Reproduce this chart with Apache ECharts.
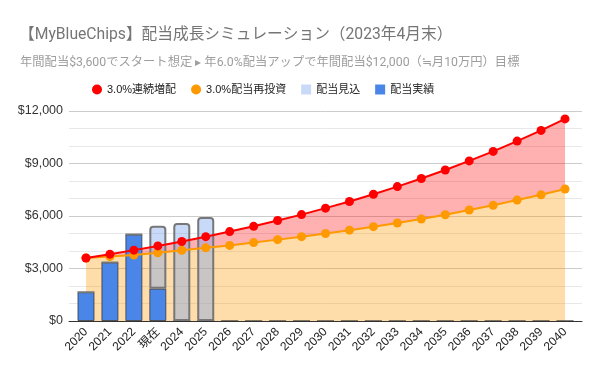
<!DOCTYPE html>
<html><head><meta charset="utf-8">
<script src="https://cdn.jsdelivr.net/npm/echarts@6/dist/echarts.min.js"></script>
<style>html,body{margin:0;padding:0;background:#fff}#c{width:600px;height:371px}</style>
</head><body><div id="c"></div>
<script>
var categories = ['2020','2021','2022','現在','2024','2025','2026','2027','2028','2029','2030','2031','2032','2033','2034','2035','2036','2037','2038','2039','2040'];
var renzokuZouhai = [3600,3820,4050,4290,4540,4820,5110,5410,5740,6080,6450,6830,7240,7680,8140,8630,9150,9690,10280,10890,11550];
var saitoushi = [3600,3680,3770,3900,4040,4180,4320,4480,4650,4820,5000,5190,5390,5600,5830,6070,6340,6610,6910,7210,7540];
var haitouJisseki = [1650,3350,4950,1850,0,0,0,0,0,0,0,0,0,0,0,0,0,0,0,0,0];
var haitouMikomi = [0,0,0,3600,5600,5950,null,null,null,null,null,null,null,null,null,null,null,null,null,null,null];
var yTicks = [0,3000,6000,9000,12000];

var gap = renzokuZouhai.map(function(v,i){return v - saitoushi[i];});
var font = 'Arial, "Liberation Sans", "Noto Sans CJK JP", sans-serif';
var chart = echarts.init(document.getElementById('c'), null, {renderer:'canvas'});
chart.setOption({
  animation:false,
  backgroundColor:'#fff',
  title:[
    {text:'【MyBlueChips】配当成長シミュレーション（2023年4月末）', left:14, top:22,
     textStyle:{fontFamily:'Roboto, "Noto Sans CJK JP", sans-serif', fontSize:15.7, fontWeight:'normal', color:'#757575'}},
    {text:'年間配当$3,600でスタート想定 ▸ 年6.0%配当アップで年間配当$12,000（≒月10万円）目標', left:15, top:52,
     textStyle:{fontFamily:'Roboto, "Noto Sans CJK JP", sans-serif', fontSize:12.3, fontWeight:'normal', color:'#9e9e9e'}}
  ],
  legend:{
    left:87, top:79, itemWidth:10, itemHeight:10, itemGap:15,
    textStyle:{fontFamily:font, fontSize:11, color:'#222'},
    data:[
      {name:'3.0%連続増配', icon:'circle', itemStyle:{color:'#ff0000'}},
      {name:'3.0%配当再投資', icon:'circle', itemStyle:{color:'#ff9900'}},
      {name:'配当見込', icon:'rect', itemStyle:{color:'#c9daf8', borderWidth:0}},
      {name:'配当実績', icon:'rect', itemStyle:{color:'#4a86e8', borderWidth:0}}
    ]
  },
  grid:[
    {left:69, right:18, top:111, bottom:50},
    {left:74, right:23, top:111, bottom:50}
  ],
  xAxis:[
    {gridIndex:0, type:'value', min:0, max:1, axisLine:{show:true, onZero:false, lineStyle:{color:'#333', width:1}},
     axisTick:{show:false}, axisLabel:{show:false}, splitLine:{show:false}},
    {gridIndex:1, type:'category', data:categories, boundaryGap:true,
     axisLine:{show:false}, axisTick:{show:false},
     axisLabel:{rotate:45, margin:9, interval:0, fontFamily:font, fontSize:12, color:'#222'}}
  ],
  yAxis:[
    {gridIndex:0, type:'value', min:0, max:12000, interval:3000,
     axisLine:{show:false}, axisTick:{show:false},
     axisLabel:{margin:6, fontFamily:font, fontSize:12.5, color:'#333',
       formatter:function(v){return '$'+v.toLocaleString('en-US');}},
     splitLine:{show:true, lineStyle:{color:'#cccccc', width:1}},
     minorTick:{show:false, splitNumber:3},
     minorSplitLine:{show:true, lineStyle:{color:'#e8e8e8', width:1}}},
    {gridIndex:1, type:'value', min:0, max:12000, show:false}
  ],
  series:[
    {name:'area-orange', type:'line', xAxisIndex:1, yAxisIndex:1, data:saitoushi, stack:'area',
     showSymbol:false, symbol:'none', lineStyle:{width:0}, areaStyle:{color:'rgba(255,153,0,0.33)', opacity:1}, z:2, silent:true},
    {name:'area-red', type:'line', xAxisIndex:1, yAxisIndex:1, data:gap, stack:'area',
     showSymbol:false, symbol:'none', lineStyle:{width:0}, areaStyle:{color:'rgba(255,0,0,0.31)', opacity:1}, z:2, silent:true},
    {name:'配当実績', type:'bar', xAxisIndex:1, yAxisIndex:1, data:haitouJisseki, stack:'bar', barWidth:17,
     itemStyle:{color:'#4a86e8', borderColor:'rgba(50,50,50,0.75)', borderWidth:1}, z:3},
    {name:'配当見込', type:'bar', xAxisIndex:1, yAxisIndex:1, data:haitouMikomi, stack:'bar', barWidth:17,
     itemStyle:{color:'rgba(116,160,237,0.39)', borderColor:'#777777', borderWidth:2, borderRadius:[3,3,0,0]}, z:3},
    {name:'3.0%配当再投資', type:'line', xAxisIndex:1, yAxisIndex:1, data:saitoushi,
     symbol:'circle', symbolSize:9, itemStyle:{color:'#ff9900'}, lineStyle:{color:'#ff9900', width:2}, z:4},
    {name:'3.0%連続増配', type:'line', xAxisIndex:1, yAxisIndex:1, data:renzokuZouhai,
     symbol:'circle', symbolSize:9, itemStyle:{color:'#ff0000'}, lineStyle:{color:'#ff0000', width:2}, z:5}
  ]
});
</script></body></html>
